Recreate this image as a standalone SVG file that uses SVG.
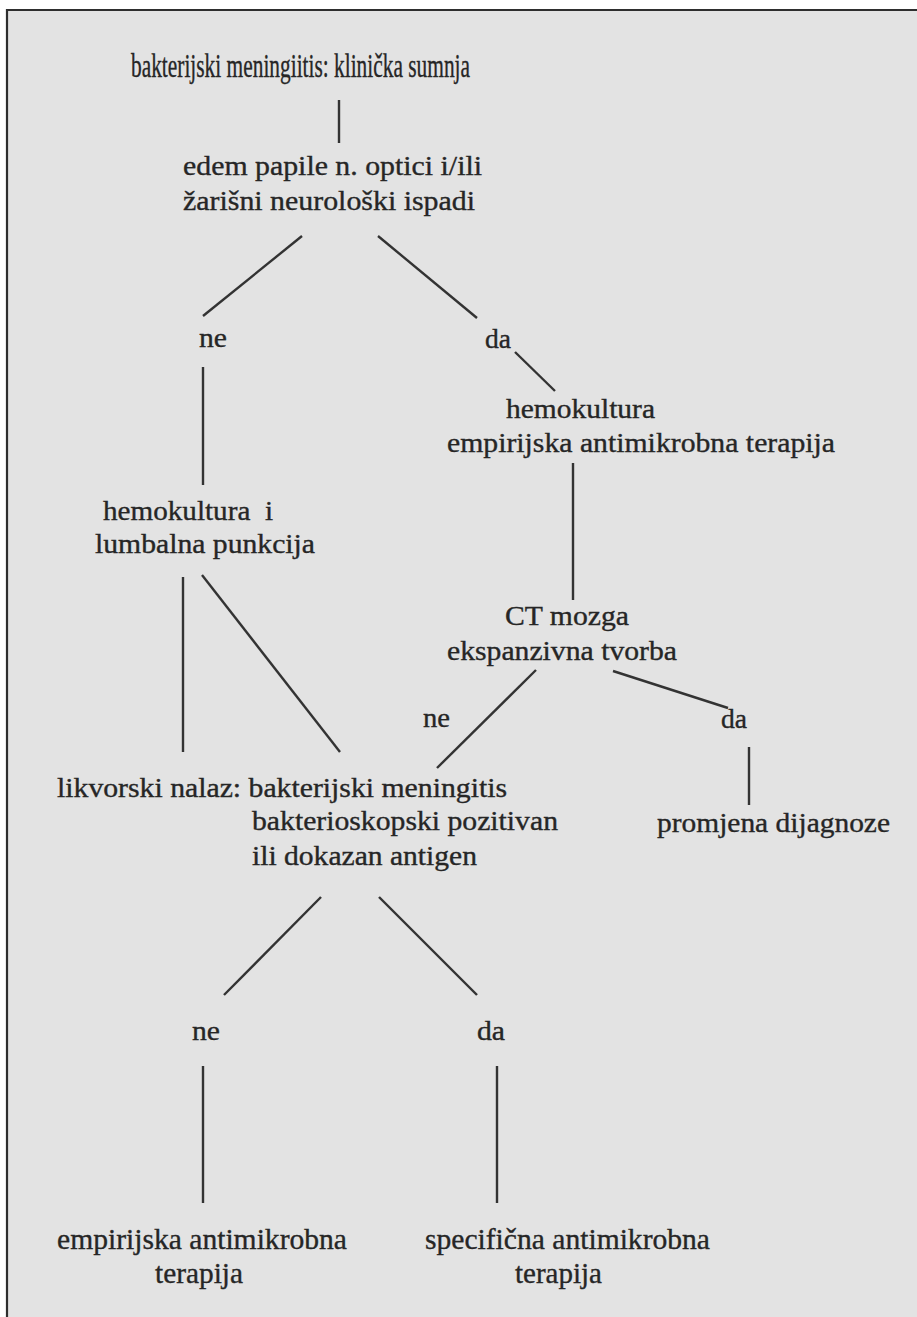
<svg xmlns="http://www.w3.org/2000/svg" width="917" height="1317" viewBox="0 0 917 1317">
<style>
text{font-family:"Liberation Serif","Times New Roman",serif;font-size:27px;fill:#262626;stroke:#262626;stroke-width:0.35}
.tall{font-size:30px}
.title{font-size:33px}
.c line{stroke:#333;stroke-width:2.4;stroke-linecap:butt}
</style>
<rect x="0" y="0" width="917" height="1317" fill="#ffffff"/>
<rect x="7" y="10" width="910" height="1307" fill="#e3e3e3"/>
<path d="M7 1317 V10 H917" fill="none" stroke="#2e2e2e" stroke-width="2.2"/>
<g class="c" id="connectors">
<line x1="339" y1="100" x2="339" y2="143"/>
<line x1="302" y1="236" x2="203" y2="316"/>
<line x1="378" y1="236" x2="477" y2="318"/>
<line x1="515" y1="352" x2="555" y2="391"/>
<line x1="203" y1="367" x2="203" y2="485"/>
<line x1="573" y1="463" x2="573" y2="600"/>
<line x1="183" y1="577" x2="183" y2="752"/>
<line x1="202" y1="575" x2="340" y2="752"/>
<line x1="536" y1="670" x2="437" y2="768"/>
<line x1="613" y1="671" x2="728" y2="708"/>
<line x1="749" y1="747" x2="749" y2="805"/>
<line x1="321" y1="897" x2="224" y2="995"/>
<line x1="379" y1="897" x2="477" y2="995"/>
<line x1="203" y1="1066" x2="203" y2="1203"/>
<line x1="497" y1="1066" x2="497" y2="1203"/>
</g>
<g id="n1"><text class="title" x="131" y="77" textLength="339" lengthAdjust="spacingAndGlyphs">bakterijski meningiitis: klinička sumnja</text></g>
<g id="n2">
<text x="183" y="175" textLength="299" lengthAdjust="spacingAndGlyphs">edem papile n. optici i/ili</text>
<text x="183" y="210" textLength="292" lengthAdjust="spacingAndGlyphs">žarišni neurološki ispadi</text>
</g>
<g id="l1"><text x="199" y="347" textLength="28" lengthAdjust="spacingAndGlyphs">ne</text></g>
<g id="l2"><text x="485" y="348" textLength="26" lengthAdjust="spacingAndGlyphs">da</text></g>
<g id="n3">
<text x="506" y="418" textLength="149" lengthAdjust="spacingAndGlyphs">hemokultura</text>
<text x="447" y="452" textLength="388" lengthAdjust="spacingAndGlyphs">empirijska antimikrobna terapija</text>
</g>
<g id="n4">
<text x="103" y="520" textLength="170" lengthAdjust="spacingAndGlyphs">hemokultura&#160; i</text>
<text x="95" y="553" textLength="220" lengthAdjust="spacingAndGlyphs">lumbalna punkcija</text>
</g>
<g id="n5">
<text x="505" y="625" textLength="124" lengthAdjust="spacingAndGlyphs">CT mozga</text>
<text x="447" y="660" textLength="230" lengthAdjust="spacingAndGlyphs">ekspanzivna tvorba</text>
</g>
<g id="l3"><text x="423" y="727" textLength="27" lengthAdjust="spacingAndGlyphs">ne</text></g>
<g id="l4"><text x="721" y="728" textLength="26" lengthAdjust="spacingAndGlyphs">da</text></g>
<g id="n6">
<text x="57" y="797" textLength="450" lengthAdjust="spacingAndGlyphs">likvorski nalaz: bakterijski meningitis</text>
<text x="252" y="830" textLength="306" lengthAdjust="spacingAndGlyphs">bakterioskopski pozitivan</text>
<text x="252" y="865" textLength="225" lengthAdjust="spacingAndGlyphs">ili dokazan antigen</text>
</g>
<g id="n7"><text x="657" y="832" textLength="233" lengthAdjust="spacingAndGlyphs">promjena dijagnoze</text></g>
<g id="l5"><text x="192" y="1040" textLength="28" lengthAdjust="spacingAndGlyphs">ne</text></g>
<g id="l6"><text x="477" y="1040" textLength="28" lengthAdjust="spacingAndGlyphs">da</text></g>
<g id="n8">
<text class="tall" x="57" y="1249" textLength="290" lengthAdjust="spacingAndGlyphs">empirijska antimikrobna</text>
<text class="tall" x="155" y="1283" textLength="88" lengthAdjust="spacingAndGlyphs">terapija</text>
</g>
<g id="n9">
<text class="tall" x="425" y="1249" textLength="285" lengthAdjust="spacingAndGlyphs">specifična antimikrobna</text>
<text class="tall" x="515" y="1283" textLength="87" lengthAdjust="spacingAndGlyphs">terapija</text>
</g>
</svg>
